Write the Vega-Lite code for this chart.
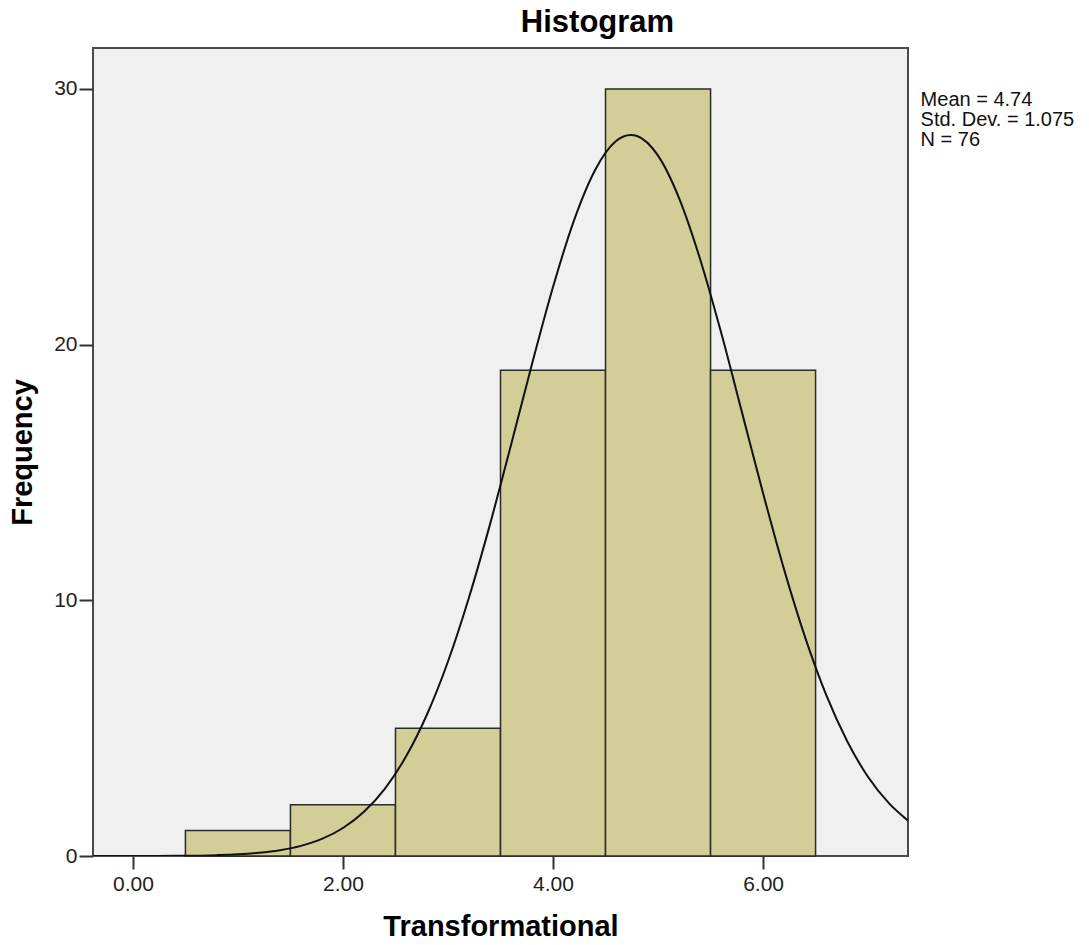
{
  "$schema": "https://vega.github.io/schema/vega-lite/v6.json",
  "width": 815,
  "height": 808,
  "autosize": "none",
  "padding": {"left": 93, "top": 48, "right": 181, "bottom": 89},
  "background": "white",
  "config": {
    "font": "Liberation Sans",
    "view": {"fill": "#F0F0F0", "stroke": "#4a4a4a", "strokeWidth": 2}
  },
  "title": {"text": "Histogram", "fontSize": 31, "fontWeight": "bold", "color": "#000000", "anchor": "middle", "dx": 97, "offset": 9},
  "datasets": {
    "bins": [
      {"bin_start": 0.5, "bin_end": 1.5, "count": 1},
      {"bin_start": 1.5, "bin_end": 2.5, "count": 2},
      {"bin_start": 2.5, "bin_end": 3.5, "count": 5},
      {"bin_start": 3.5, "bin_end": 4.5, "count": 19},
      {"bin_start": 4.5, "bin_end": 5.5, "count": 30},
      {"bin_start": 5.5, "bin_end": 6.5, "count": 19}
    ],
    "curve": [
      {"x": -0.38, "y": 0.0001},
      {"x": 0.0, "y": 0.0017},
      {"x": 0.4, "y": 0.008},
      {"x": 0.8, "y": 0.034},
      {"x": 1.0, "y": 0.066},
      {"x": 1.2, "y": 0.125},
      {"x": 1.4, "y": 0.226},
      {"x": 1.6, "y": 0.396},
      {"x": 1.8, "y": 0.67},
      {"x": 2.0, "y": 1.096},
      {"x": 2.2, "y": 1.73},
      {"x": 2.4, "y": 2.638},
      {"x": 2.6, "y": 3.888},
      {"x": 2.8, "y": 5.534},
      {"x": 3.0, "y": 7.608},
      {"x": 3.2, "y": 10.11},
      {"x": 3.4, "y": 12.97},
      {"x": 3.6, "y": 16.07},
      {"x": 3.8, "y": 19.24},
      {"x": 4.0, "y": 22.25},
      {"x": 4.2, "y": 24.86},
      {"x": 4.4, "y": 26.82},
      {"x": 4.6, "y": 27.96},
      {"x": 4.74, "y": 28.2},
      {"x": 4.8, "y": 28.16},
      {"x": 5.0, "y": 27.39},
      {"x": 5.2, "y": 25.73},
      {"x": 5.4, "y": 23.35},
      {"x": 5.6, "y": 20.48},
      {"x": 5.8, "y": 17.34},
      {"x": 6.0, "y": 14.19},
      {"x": 6.2, "y": 11.21},
      {"x": 6.4, "y": 8.56},
      {"x": 6.6, "y": 6.31},
      {"x": 6.8, "y": 4.5},
      {"x": 7.0, "y": 3.09},
      {"x": 7.2, "y": 2.056},
      {"x": 7.38, "y": 1.383}
    ]
  },
  "layer": [
    {
      "data": {"name": "bins"},
      "mark": {"type": "rect", "fill": "#D3CE97", "stroke": "#2a2a2a", "strokeWidth": 1.5},
      "encoding": {
        "x": {
          "field": "bin_start", "type": "quantitative",
          "scale": {"domain": [-0.38, 7.38], "nice": false, "zero": false},
          "axis": {
            "values": [0, 2, 4, 6], "format": ".2f", "grid": false, "domain": false,
            "tickSize": 13, "tickColor": "#333333", "tickWidth": 2,
            "labelFontSize": 21, "labelColor": "#222222", "labelPadding": 4,
            "title": "Transformational", "titleFontSize": 29, "titleFontWeight": "bold",
            "titleColor": "#000000", "titlePadding": 18
          }
        },
        "x2": {"field": "bin_end"},
        "y": {
          "field": "count", "type": "quantitative",
          "scale": {"domain": [0, 31.6], "nice": false},
          "axis": {
            "values": [0, 10, 20, 30], "grid": false, "domain": false,
            "tickSize": 14, "tickColor": "#333333", "tickWidth": 2,
            "labelFontSize": 21, "labelColor": "#222222", "labelPadding": 2,
            "title": "Frequency", "titleFontSize": 29, "titleFontWeight": "bold",
            "titleColor": "#000000", "titlePadding": 16
          }
        },
        "y2": {"datum": 0}
      }
    },
    {
      "data": {"name": "curve"},
      "mark": {"type": "line", "color": "#111111", "strokeWidth": 2, "interpolate": "monotone", "clip": true},
      "encoding": {
        "x": {"field": "x", "type": "quantitative"},
        "y": {"field": "y", "type": "quantitative"}
      }
    },
    {
      "data": {"values": [{}]},
      "mark": {
        "type": "text", "align": "left", "baseline": "top", "clip": false,
        "fontSize": 20, "lineHeight": 20, "color": "#111111",
        "text": ["Mean = 4.74", "Std. Dev. = 1.075", "N = 76"]
      },
      "encoding": {
        "x": {"datum": 7.5},
        "y": {"datum": 29.95}
      }
    }
  ]
}
